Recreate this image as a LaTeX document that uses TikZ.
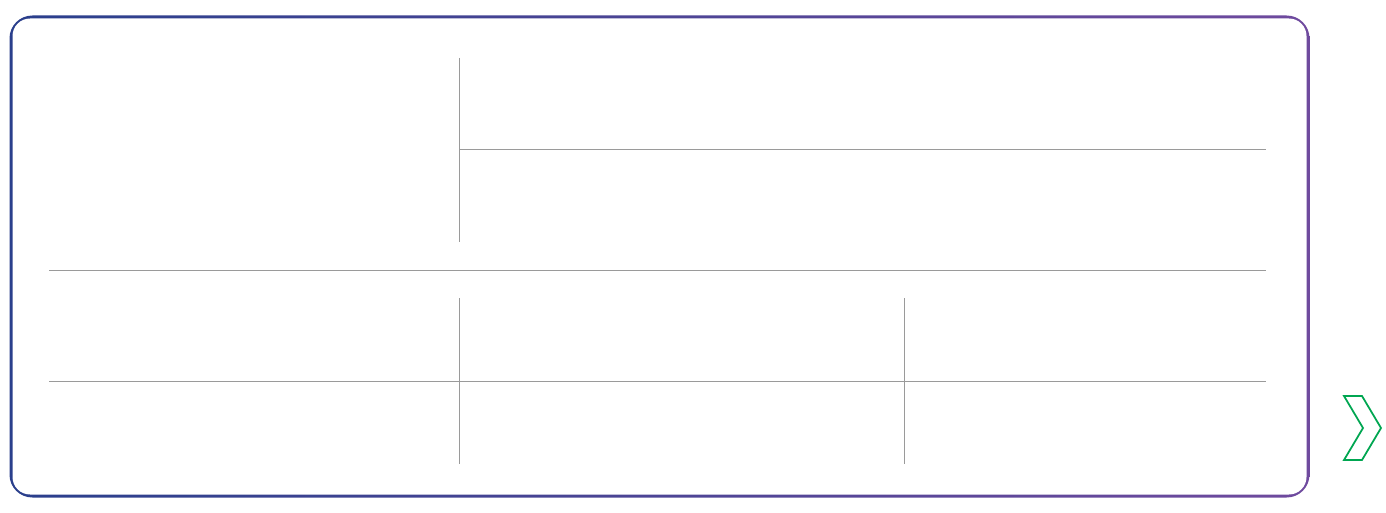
\documentclass[tikz,border=0pt]{standalone}
\usepackage{xcolor}
\definecolor{frameblue}{HTML}{2A3F8C}
\definecolor{framepurple}{HTML}{6F4A9E}
\definecolor{rulegray}{HTML}{9A9A9A}
\definecolor{nextgreen}{HTML}{00A651}
\begin{document}
\begin{tikzpicture}[x=0.02cm, y=-0.02cm,
    rule/.style = {draw=rulegray, line width=0.5pt},
    chevron/.style = {draw=nextgreen, line width=1pt, line join=miter}]
  \useasboundingbox (0,0) rectangle (1386,513);
  % frame
  \shade[left color=frameblue, right color=framepurple, rounded corners=13]
    (9.5,15.5) rectangle (1309.5,497.5);
  \fill[white, rounded corners=10] (12.5,18.5) rectangle (1306.5,494.5);
  % grid points
  \coordinate (vt) at (459,58);   \coordinate (vb) at (459,242);
  \coordinate (ml) at (459,149);  \coordinate (mr) at (1266,149);
  \coordinate (cl) at (49,270);   \coordinate (cr) at (1266,270);
  \coordinate (at) at (459,298);  \coordinate (ab) at (459,464);
  \coordinate (bt) at (904,298);  \coordinate (bb) at (904,464);
  \coordinate (ll) at (49,381);   \coordinate (lr) at (1266,381);
  \draw[rule] (vt) -- (vb);
  \draw[rule] (ml) -- (mr);
  \draw[rule] (cl) -- (cr);
  \draw[rule] (at) -- (ab);
  \draw[rule] (bt) -- (bb);
  \draw[rule] (ll) -- (lr);
  % next arrow
  \draw[chevron] (1344,396) -- (1362,396) -- (1381,428) -- (1362,460)
    -- (1344,460) -- (1363,428) -- cycle;
\end{tikzpicture}
\end{document}
